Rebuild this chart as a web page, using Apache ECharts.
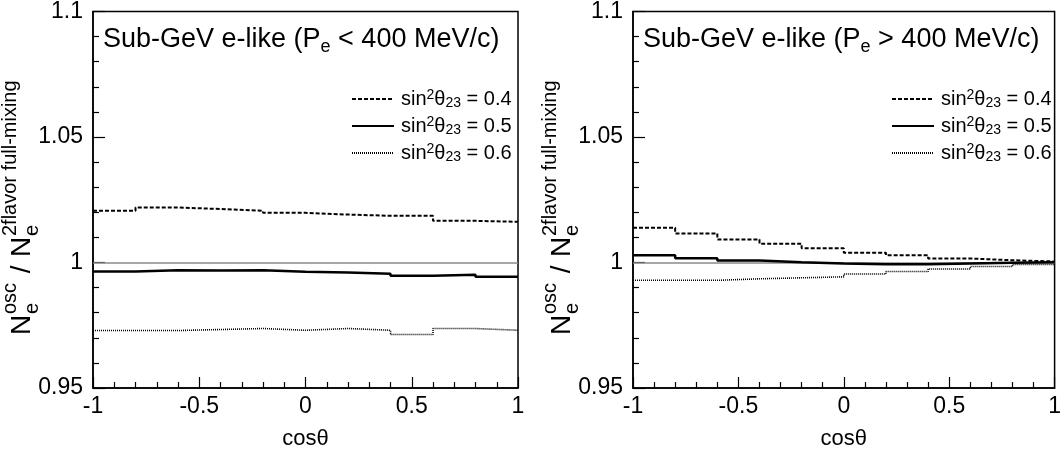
<!DOCTYPE html>
<html>
<head>
<meta charset="utf-8">
<script src="https://cdn.jsdelivr.net/npm/echarts@6/dist/echarts.min.js"></script>
<style>
html,body{margin:0;padding:0;background:#fff;}
#chart{width:1064px;height:458px;}
</style>
</head>
<body>
<div id="chart"></div>
<script>
// ---- data ----
const binEdges = [-1, -0.8, -0.6, -0.4, -0.2, 0, 0.2, 0.4, 0.6, 0.8, 1];
const panelTitles = ['Sub-GeV e-like (P', 'Sub-GeV e-like (P'];
const panelTitleTail = [' < 400 MeV/c)', ' > 400 MeV/c)'];
const legendNames = ['0.4', '0.5', '0.6'];

// left panel: P_e < 400 MeV/c
const low_s04 = [1.0206, 1.0219, 1.0213, 1.0206, 1.0198, 1.0191, 1.0186, 1.0186, 1.0166, 1.0162];
const low_s05 = [0.9964, 0.9969, 0.9968, 0.9969, 0.9963, 0.9960, 0.9955, 0.9947, 0.9951, 0.9943];
const low_s06 = [0.9729, 0.9729, 0.9733, 0.9737, 0.9730, 0.9737, 0.9730, 0.9713, 0.9737, 0.9730];

// right panel: P_e > 400 MeV/c
const high_s04 = [1.0138, 1.0116, 1.0092, 1.0075, 1.0057, 1.0039, 1.0029, 1.0016, 1.0009, 1.0004];
const high_s05 = [1.0029, 1.0017, 1.0008, 1.0001, 0.9996, 0.9993, 0.9993, 0.9996, 0.9999, 1.0001];
const high_s06 = [0.9929, 0.9929, 0.9935, 0.9939, 0.9943, 0.9954, 0.9964, 0.9974, 0.9984, 0.9992];

const refLine = 1;

// ---- helpers ----
function steps(vals) {
  return binEdges.map((x, i) => [x, vals[Math.min(i, vals.length - 1)]]);
}
const FONT = 'Liberation Sans, Arial, Helvetica, sans-serif';
const styles = {
  '0.4': { color: '#000', width: 2, type: [4, 2] },
  '0.5': { color: '#000', width: 2.5, type: 'solid' },
  '0.6': { color: '#000', width: 1.6, type: [1, 1] }
};

const grids = [
  { left: 93, top: 11, width: 425, height: 377 },
  { left: 633, top: 11, width: 425, height: 377 }
];

function xAxis(i) {
  return {
    type: 'value', gridIndex: i, min: -1, max: 1, interval: 0.5,
    name: 'cosθ', nameLocation: 'middle', nameGap: 40,
    nameTextStyle: { fontSize: 22, color: '#000', fontFamily: FONT },
    axisLine: { show: true, onZero: false, lineStyle: { color: '#000', width: 1.5 } },
    axisTick: { show: true, inside: true, length: 11, lineStyle: { color: '#000', width: 1.2 } },
    minorTick: { show: true, splitNumber: 5, length: 6, lineStyle: { color: '#000', width: 1.2 } },
    splitLine: { show: false },
    axisLabel: { fontSize: 23, color: '#000', fontFamily: FONT, margin: 7,
      formatter: v => String(+v.toFixed(2)) }
  };
}
function yAxis(i) {
  return {
    type: 'value', gridIndex: i, min: 0.95, max: 1.1, interval: 0.05,
    axisLine: { show: true, onZero: false, lineStyle: { color: '#000', width: 1.5 } },
    axisTick: { show: true, inside: true, length: 12, lineStyle: { color: '#000', width: 1.2 } },
    minorTick: { show: true, splitNumber: 5, length: 6, lineStyle: { color: '#000', width: 1.2 } },
    splitLine: { show: false },
    axisLabel: { fontSize: 23, color: '#000', fontFamily: FONT, margin: 10,
      formatter: v => String(+v.toFixed(2)) }
  };
}

function makeSeries(i, vals04, vals05, vals06) {
  const arr = [[legendNames[0], vals04], [legendNames[1], vals05], [legendNames[2], vals06]];
  const out = arr.map(([name, vals], k) => ({
    name: name, type: 'line', step: 'end', xAxisIndex: i, yAxisIndex: i,
    data: steps(vals), symbol: 'none', showSymbol: false, silent: true,
    lineStyle: styles[name], itemStyle: { color: '#000' }, z: 5 - k,
    animation: false
  }));
  out[2].markLine = {
    silent: true, symbol: 'none', animation: false, z: 1,
    label: { show: false },
    lineStyle: { color: '#8a8a8a', width: 1.5, type: 'solid' },
    data: [{ yAxis: refLine }]
  };
  return out;
}

const legendRich = {
  a: { fontSize: 20, lineHeight: 22, color: '#000', fontFamily: FONT },
  sup: { fontSize: 14, lineHeight: 9, verticalAlign: 'top', color: '#000', fontFamily: FONT },
  sub: { fontSize: 14, lineHeight: 9, verticalAlign: 'bottom', color: '#000', fontFamily: FONT }
};
function legend(left) {
  return {
    left: left, top: 83, orient: 'vertical', itemWidth: 42, itemHeight: 14, itemGap: 5,
    selectedMode: false,
    itemStyle: { opacity: 0 },
    data: legendNames,
    formatter: n => '{a|sin}{sup|2}{a|θ}{sub|23}{a| = ' + n + '}',
    textStyle: { rich: legendRich, padding: [0, 0, 0, 2] }
  };
}

const titleRich = {
  a: { fontSize: 27, lineHeight: 32, color: '#000', fontFamily: FONT, fontWeight: 'normal' },
  sub: { fontSize: 18, lineHeight: 14, verticalAlign: 'bottom', color: '#000', fontFamily: FONT, fontWeight: 'normal' }
};
function title(i, left) {
  return {
    left: left, top: 19,
    text: '{a|' + panelTitles[i] + '}{sub|e}{a|' + panelTitleTail[i] + '}',
    textStyle: { fontWeight: 'normal', rich: titleRich }
  };
}

function yName(x0, y0) {
  const base = { fill: '#000', fontFamily: FONT, verticalAlign: 'middle', align: 'left' };
  const big = 28, small = 20;
  const parts = [
    { t: 'N', x: 0, y: 0, s: big },
    { t: 'e', x: 21, y: 10, s: small },
    { t: 'osc', x: 21, y: -12, s: small },
    { t: ' / ', x: 54, y: 0, s: big },
    { t: 'N', x: 78, y: 0, s: big },
    { t: 'e', x: 99, y: 10, s: small },
    { t: '2flavor full-mixing', x: 99, y: -12, s: small }
  ];
  return {
    type: 'group', x: x0, y: y0, rotation: Math.PI / 2, silent: true,
    children: parts.map(p => ({
      type: 'text', x: p.x, y: p.y,
      style: Object.assign({}, base, { text: p.t, fontSize: p.s })
    }))
  };
}

const option = {
  animation: false,
  backgroundColor: '#fff',
  textStyle: { fontFamily: FONT },
  grid: grids.map(g => Object.assign({ show: true, borderColor: '#000', borderWidth: 1.5, backgroundColor: 'transparent' }, g)),
  xAxis: [xAxis(0), xAxis(1)],
  yAxis: [yAxis(0), yAxis(1)],
  title: [title(0, 98), title(1, 638)],
  legend: [legend(346), legend(886)],
  series: [].concat(makeSeries(0, low_s04, low_s05, low_s06), makeSeries(1, high_s04, high_s05, high_s06)),
  graphic: [yName(22, 335), yName(562, 335)]
};

const chart = echarts.init(document.getElementById('chart'), null, { renderer: 'canvas' });
chart.setOption(option);
</script>
</body>
</html>
